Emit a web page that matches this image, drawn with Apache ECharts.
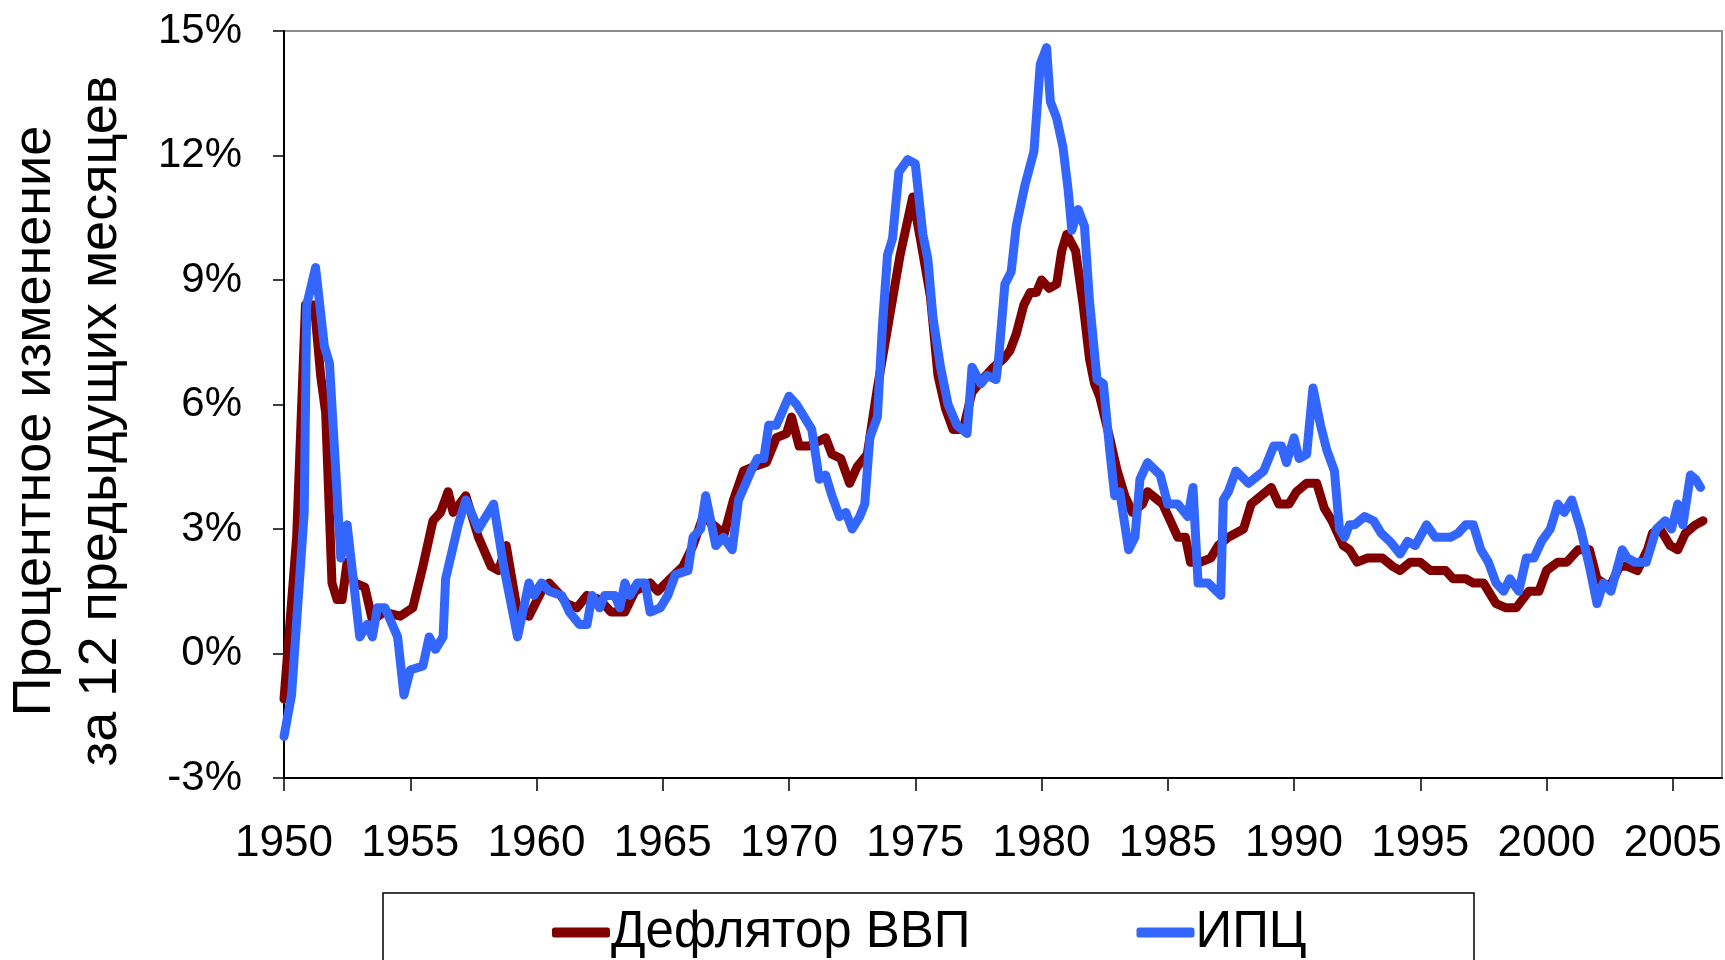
<!DOCTYPE html>
<html>
<head>
<meta charset="utf-8">
<script src="https://cdn.jsdelivr.net/npm/echarts@6/dist/echarts.min.js"></script>
<style>
    html, body { margin: 0; padding: 0; background: #fff; }
    #chart { width: 1725px; height: 960px; }
</style>
</head>
<body>
<div id="chart"></div>
<script>
    // [year, % change over previous 12 months]
    const deflatorPoints = [
        [1950.0,-1.1],[1950.5,2.8],[1950.85,8.4],[1951.2,8.4],[1951.45,6.7],[1951.65,5.8],[1951.9,1.7],[1952.1,1.3],
        [1952.3,1.3],[1952.5,2.2],[1952.8,1.7],[1953.2,1.6],[1953.5,0.8],[1953.95,1.0],[1954.6,0.9],[1955.1,1.1],
        [1955.5,2.1],[1955.9,3.2],[1956.2,3.4],[1956.5,3.9],[1956.7,3.4],[1957.2,3.8],[1957.7,2.8],[1958.2,2.1],
        [1958.5,2.0],[1958.8,2.6],[1959.25,1.0],[1959.7,0.9],[1960.2,1.5],[1960.5,1.7],[1960.95,1.4],[1961.2,1.2],
        [1961.6,1.1],[1962.0,1.4],[1962.5,1.3],[1962.95,1.0],[1963.5,1.0],[1963.9,1.5],[1964.5,1.7],[1964.8,1.5],
        [1965.3,1.8],[1965.8,2.1],[1966.2,2.6],[1966.6,3.3],[1967.2,3.0],[1967.4,2.8],[1967.8,3.7],[1968.2,4.4],
        [1968.6,4.5],[1969.1,4.6],[1969.5,5.2],[1969.9,5.3],[1970.1,5.7],[1970.4,5.0],[1970.8,5.0],[1971.45,5.2],
        [1971.7,4.8],[1972.05,4.7],[1972.4,4.1],[1972.7,4.5],[1973.1,4.8],[1973.5,6.4],[1973.95,8.0],[1974.4,9.6],
        [1974.9,11.0],[1975.2,10.0],[1975.6,8.6],[1975.9,6.7],[1976.2,5.9],[1976.5,5.4],[1976.9,5.4],[1977.25,6.3],
        [1977.8,6.7],[1978.1,6.9],[1978.5,7.1],[1978.75,7.3],[1979.0,7.7],[1979.3,8.4],[1979.55,8.7],[1979.8,8.7],
        [1980.0,9.0],[1980.3,8.8],[1980.6,8.9],[1980.8,9.7],[1981.0,10.1],[1981.35,9.7],[1981.65,8.4],[1981.9,7.1],
        [1982.1,6.5],[1982.3,6.2],[1982.7,5.2],[1983.0,4.4],[1983.3,3.8],[1983.6,3.4],[1984.0,3.6],[1984.2,3.9],
        [1984.8,3.6],[1985.1,3.2],[1985.4,2.8],[1985.7,2.8],[1985.9,2.2],[1986.3,2.2],[1986.7,2.3],[1987.0,2.6],
        [1987.4,2.8],[1988.0,3.0],[1988.3,3.6],[1988.7,3.8],[1989.1,4.0],[1989.4,3.6],[1989.8,3.6],[1990.1,3.9],
        [1990.5,4.1],[1990.9,4.1],[1991.2,3.5],[1991.5,3.2],[1991.95,2.6],[1992.2,2.5],[1992.5,2.2],[1992.9,2.3],
        [1993.5,2.3],[1993.9,2.1],[1994.2,2.0],[1994.6,2.2],[1995.0,2.2],[1995.4,2.0],[1996.0,2.0],[1996.3,1.8],
        [1996.8,1.8],[1997.1,1.7],[1997.5,1.7],[1998.0,1.2],[1998.4,1.1],[1998.8,1.1],[1999.3,1.5],[1999.7,1.5],
        [2000.0,2.0],[2000.45,2.2],[2000.8,2.2],[2001.25,2.5],[2001.7,2.5],[2002.0,1.8],[2002.5,1.6],[2002.9,2.1],
        [2003.2,2.1],[2003.6,2.0],[2004.0,2.5],[2004.2,2.9],[2004.5,3.0],[2004.9,2.6],[2005.2,2.5],[2005.5,2.9],
        [2005.9,3.1],[2006.2,3.2]
    ];

    const cpiPoints = [
        [1950.0,-2.0],[1950.3,-1.0],[1950.8,3.4],[1950.9,8.4],[1951.25,9.3],[1951.6,7.4],[1951.8,7.0],[1952.25,2.3],
        [1952.5,3.1],[1953.0,0.4],[1953.3,0.7],[1953.5,0.4],[1953.7,1.1],[1954.0,1.1],[1954.5,0.4],[1954.75,-1.0],
        [1955.0,-0.4],[1955.5,-0.3],[1955.75,0.4],[1956.0,0.1],[1956.3,0.4],[1956.4,1.8],[1956.9,3.1],[1957.2,3.7],
        [1957.7,3.0],[1958.3,3.6],[1958.7,2.1],[1959.25,0.4],[1959.7,1.7],[1959.9,1.4],[1960.2,1.7],[1960.5,1.5],
        [1961.0,1.4],[1961.3,1.0],[1961.7,0.7],[1962.0,0.7],[1962.2,1.4],[1962.5,1.1],[1962.7,1.4],[1963.1,1.4],
        [1963.3,1.1],[1963.5,1.7],[1963.7,1.4],[1964.0,1.7],[1964.3,1.7],[1964.5,1.0],[1964.9,1.1],[1965.2,1.4],
        [1965.5,1.9],[1966.0,2.0],[1966.2,2.8],[1966.5,3.0],[1966.7,3.8],[1967.1,2.6],[1967.4,2.8],[1967.75,2.5],
        [1968.0,3.7],[1968.5,4.4],[1968.75,4.7],[1969.0,4.7],[1969.2,5.5],[1969.5,5.5],[1970.0,6.2],[1970.3,6.0],
        [1970.6,5.7],[1970.9,5.4],[1971.2,4.2],[1971.45,4.3],[1971.7,3.8],[1972.0,3.3],[1972.25,3.4],[1972.5,3.0],
        [1972.8,3.3],[1973.0,3.6],[1973.2,5.2],[1973.5,5.7],[1973.7,7.9],[1973.9,9.6],[1974.1,10.0],[1974.35,11.6],
        [1974.7,11.9],[1975.0,11.8],[1975.3,10.1],[1975.5,9.5],[1975.7,8.1],[1976.0,6.9],[1976.3,6.0],[1976.65,5.5],
        [1977.05,5.3],[1977.25,6.9],[1977.6,6.5],[1977.85,6.7],[1978.2,6.6],[1978.3,7.1],[1978.55,8.9],[1978.8,9.2],
        [1979.0,10.3],[1979.35,11.3],[1979.7,12.1],[1979.95,14.2],[1980.2,14.6],[1980.35,13.3],[1980.6,12.9],[1980.85,12.2],
        [1981.05,11.2],[1981.2,10.2],[1981.45,10.7],[1981.7,10.3],[1981.9,8.5],[1982.2,6.6],[1982.45,6.5],[1982.7,4.9],
        [1982.9,3.8],[1983.1,3.9],[1983.45,2.5],[1983.7,2.8],[1983.9,4.2],[1984.2,4.6],[1984.7,4.3],[1985.0,3.6],
        [1985.4,3.6],[1985.8,3.3],[1986.0,4.0],[1986.2,1.7],[1986.6,1.7],[1987.1,1.4],[1987.2,3.7],[1987.4,3.9],
        [1987.7,4.4],[1988.2,4.1],[1988.8,4.4],[1989.2,5.0],[1989.5,5.0],[1989.7,4.6],[1990.0,5.2],[1990.2,4.7],
        [1990.5,4.8],[1990.75,6.4],[1991.05,5.5],[1991.3,4.9],[1991.6,4.4],[1991.8,3.0],[1992.0,2.8],[1992.2,3.1],
        [1992.4,3.1],[1992.8,3.3],[1993.15,3.2],[1993.45,2.9],[1993.8,2.7],[1994.2,2.4],[1994.5,2.7],[1994.8,2.6],
        [1995.25,3.1],[1995.6,2.8],[1996.2,2.8],[1996.5,2.9],[1996.8,3.1],[1997.1,3.1],[1997.4,2.5],[1997.7,2.2],
        [1998.0,1.7],[1998.3,1.5],[1998.55,1.8],[1998.9,1.5],[1999.2,2.3],[1999.5,2.3],[1999.8,2.7],[2000.15,3.0],
        [2000.45,3.6],[2000.7,3.4],[2001.0,3.7],[2001.35,3.0],[2001.7,2.1],[2002.0,1.2],[2002.25,1.7],[2002.55,1.5],
        [2003.0,2.5],[2003.2,2.3],[2003.5,2.2],[2003.95,2.2],[2004.35,3.0],[2004.7,3.2],[2004.95,3.0],[2005.2,3.6],
        [2005.4,3.1],[2005.7,4.3],[2005.9,4.2],[2006.1,4.0]
    ];

    const seriesNames = ["Дефлятор ВВП", "ИПЦ"];
    const yAxisTitle = "Процентное изменение\nза 12 предыдущих месяцев";

    let chart = echarts.init(document.getElementById("chart"));

    let option = {
        animation: false,
        textStyle: { fontFamily: "Liberation Sans, Arial, sans-serif" },
        grid: {
            left: 284, right: 3, top: 31, bottom: 182,
            show: true, borderColor: "#8c8c8c", borderWidth: 2
        },
        legend: {
            data: seriesNames,
            left: 547, top: 902,
            icon: "roundRect",
            itemWidth: 58, itemHeight: 10, itemGap: 166,
            textStyle: { fontSize: 51, color: "#000", padding: [0, 0, 0, -4] }
        },
        xAxis: {
            type: "value",
            min: 1950, max: 2006.95, interval: 5,
            splitLine: { show: false },
            axisLine: { onZero: false, lineStyle: { color: "#000", width: 2 } },
            axisTick: { length: 13, lineStyle: { color: "#000", width: 1.5 } },
            axisLabel: {
                fontSize: 44, color: "#000", margin: 44, showMaxLabel: false,
                formatter: (v) => String(v)
            }
        },
        yAxis: {
            type: "value",
            min: -3, max: 15, interval: 3,
            splitLine: { show: false },
            axisLine: { show: true, lineStyle: { color: "#000", width: 2 } },
            axisTick: { show: true, length: 11, lineStyle: { color: "#000", width: 1.5 } },
            axisLabel: { fontSize: 42, color: "#000", margin: 42, formatter: "{value}%" }
        },
        graphic: [
            {
                type: "text",
                x: 68, y: 421,
                rotation: Math.PI / 2,
                style: {
                    text: yAxisTitle,
                    font: "54px Liberation Sans",
                    fill: "#000",
                    align: "center",
                    verticalAlign: "middle",
                    lineHeight: 66
                }
            },
            {
                type: "rect",
                shape: { x: 383, y: 893, width: 1091, height: 80 },
                style: { fill: "none", stroke: "#000", lineWidth: 1.5 }
            }
        ],
        series: [
            {
                name: seriesNames[0],
                type: "line",
                data: deflatorPoints,
                showSymbol: false,
                color: "#800000",
                lineStyle: { width: 9, join: "round", cap: "round" }
            },
            {
                name: seriesNames[1],
                type: "line",
                data: cpiPoints,
                showSymbol: false,
                color: "#3366ff",
                lineStyle: { width: 9, join: "round", cap: "round" }
            }
        ]
    };

    chart.setOption(option);
</script>
</body>
</html>
